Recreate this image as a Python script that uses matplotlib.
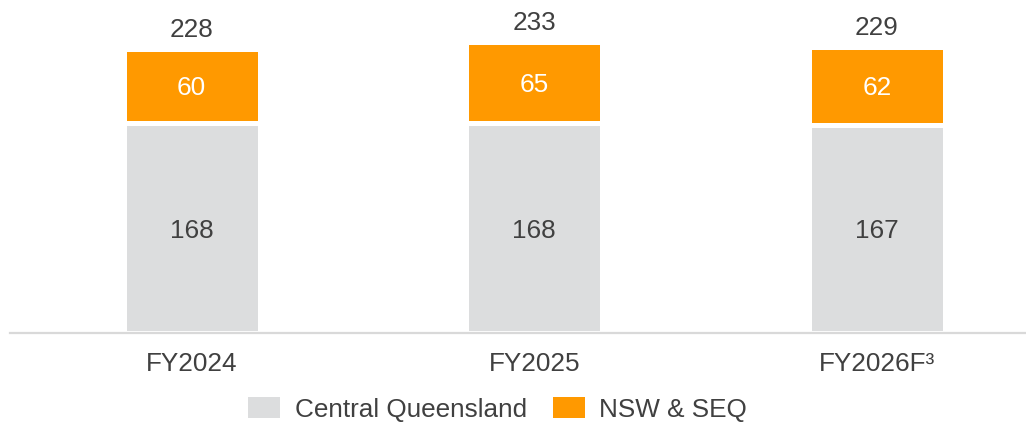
import matplotlib
matplotlib.use("Agg")
import matplotlib.pyplot as plt
from matplotlib.patches import Patch

# Data
categories = ["FY2024", "FY2025", "FY2026F³"]
central_qld = [168, 168, 167]
nsw_seq = [60, 65, 62]
totals = [228, 233, 229]
series_names = ["Central Queensland", "NSW & SEQ"]

# Styling
GREY = "#dcddde"
ORANGE = "#ff9900"
TEXT = "#404040"
AXIS = "#d9d9d9"
FONT = "Liberation Sans"
FS = 18.8

plt.rcParams["font.family"] = [FONT, "DejaVu Sans"]

fig = plt.figure(figsize=(10.26, 4.22), dpi=100)
ax = fig.add_axes([10 / 1026, 89 / 422, 1 - 10 / 1026, 1 - 89 / 422])

x = list(range(len(categories)))
width = 0.397

bars_cq = ax.bar(x, central_qld, width=width, color=GREY,
                 edgecolor="white", linewidth=3.6, zorder=1)
bars_ns = ax.bar(x, nsw_seq, width=width, bottom=central_qld, color=ORANGE,
                 edgecolor="white", linewidth=3.6, zorder=1)

# Segment labels
for xi, v in zip(x, central_qld):
    ax.text(xi, v / 2, f"{v}", ha="center", va="center_baseline",
            fontsize=FS, color=TEXT)
for xi, b, v in zip(x, central_qld, nsw_seq):
    ax.text(xi, b + v / 2, f"{v}", ha="center", va="center_baseline",
            fontsize=FS, color="white")

# Totals above each stack
for xi, t in zip(x, totals):
    ax.annotate(f"{t}", xy=(xi, t), xytext=(0, 8.6), textcoords="offset points",
                ha="center", va="baseline", fontsize=FS, color=TEXT)

ax.set_xlim(-0.53, 2.435)
ax.set_ylim(0, 266.9)

for side in ("top", "left", "right"):
    ax.spines[side].set_visible(False)
ax.spines["bottom"].set_color(AXIS)
ax.spines["bottom"].set_linewidth(1.6)
ax.spines["bottom"].set_zorder(3)

ax.set_yticks([])
ax.set_xticks(x)
ax.set_xticklabels(categories, fontsize=FS, color=TEXT)
ax.tick_params(axis="x", length=0, pad=13.5)

handles = [Patch(facecolor=GREY, edgecolor="none"),
           Patch(facecolor=ORANGE, edgecolor="none")]
fig.legend(handles, series_names, loc="center",
           bbox_to_anchor=(497.5 / 1026, 12.5 / 422), ncol=2, frameon=False,
           fontsize=FS, labelcolor=TEXT, handlelength=1.23, handleheight=0.85,
           handletextpad=0.54, columnspacing=1.0, borderpad=0, borderaxespad=0)

fig.savefig("out.png", dpi=100, facecolor="white")
